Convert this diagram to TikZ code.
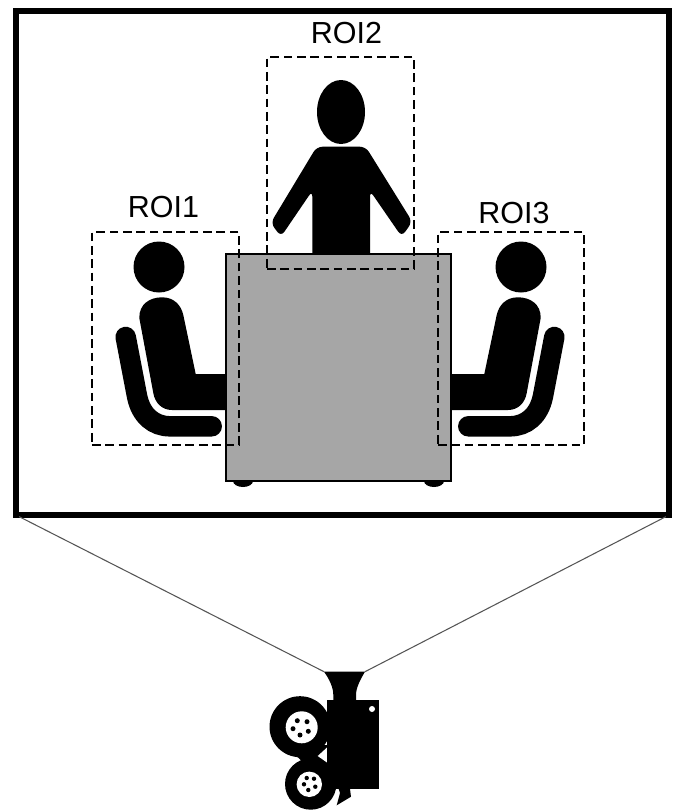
\documentclass[tikz,border=0pt]{standalone}
\usepackage{fontspec}
\setmainfont{Liberation Sans}
\usetikzlibrary{positioning}
\definecolor{tablegray}{HTML}{A6A6A6}
\definecolor{viewline}{HTML}{555555}

\tikzset{
  seated/.pic={
    \fill (159,267) circle (25.5);
    \fill (139.3,318) .. controls (139,304) and (150,297.3) .. (162,297.3)
      .. controls (174,297.3) and (181,305) .. (183.3,315) -- (195.7,374)
      -- (238,374) -- (238,410) -- (172,410)
      .. controls (162,410) and (155,403) .. (153.3,393) -- cycle;
    \draw[line width=17.5pt, line cap=round] (125.7,337) -- (137,396)
      .. controls (141,416) and (154,426.3) .. (170,426.3) -- (211.7,426.3);
  },
}

\begin{document}
\begin{tikzpicture}[
  x=.03cm, y=-.03cm,
  font=\fontsize{26pt}{28pt}\selectfont,
  roibox/.style={draw, line width=1.4pt, dash pattern=on 7.4pt off 4pt,
    minimum width=4.41cm, minimum height=6.39cm, inner sep=0pt, outer sep=0pt},
  framebox/.style={draw, line width=5.4pt, minimum width=19.59cm,
    minimum height=15.13cm, inner sep=0pt, outer sep=0pt},
  tablebox/.style={draw, line width=1.3pt, fill=tablegray, minimum width=6.75cm,
    minimum height=6.81cm, inner sep=0pt, outer sep=0pt},
  roilabel/.style={inner sep=0pt},
  viewray/.style={draw=viewline, line width=.9pt, shorten <=3pt},
]
  \useasboundingbox (0,0) rectangle (676,810);
  \fill[white] (0,0) rectangle (676,810);

  % people
  \fill (341,112) ellipse (24 and 32);
  \fill[rounded corners=5pt] (316.7,146.7) -- (270.7,223) -- (281,236.7)
    -- (312.3,190.7) -- (312.3,266) -- (370,266) -- (370,190.7)
    -- (401.7,236.7) -- (412.3,221.7) -- (365.7,146.7) -- cycle;
  \pic at (0,0) {seated};
  \pic[xscale=-1] at (680,0) {seated};

  % table
  \fill (243,481) ellipse (10 and 6);
  \fill (434,481) ellipse (10 and 6);
  \node[tablebox] (table) at (338.5,367.5) {};

  % regions
  \node[roibox] (roi1) at (165.5,338.5) {};
  \node[roibox, minimum height=6.36cm] (roi2) at (340.5,163) {};
  \node[roibox, minimum width=4.38cm] (roi3) at (511,338.5) {};
  \node[roilabel] (lab1) at (163.5,207) {ROI1};
  \node[roilabel] (lab2) at (346.5,33) {ROI2};
  \node[roilabel] (lab3) at (514,213) {ROI3};

  % field of view
  \node[framebox] (view) at (342.5,262.85) {};
  \coordinate (lensl) at (324,671.7);
  \coordinate (lensr) at (365,671.7);
  \draw[viewray] (view.south west) -- (lensl);
  \draw[viewray] (view.south east) -- (lensr);

  % camera
  \fill (300,726.7) circle (30.5);
  \fill (310.7,784) circle (25.7);
  \fill (285,745) -- (330,745) -- (330,790) -- (311,770) -- cycle;
  \fill[white] (317.7,756) -- (327,747.5) -- (327,762.5) -- cycle;
  \fill (324,671.7) .. controls (330,680) and (333.3,688) .. (333.3,695)
    -- (333.3,702) -- (356,702) -- (356,695)
    .. controls (356,688) and (360,680) .. (365,671.7) -- cycle;
  \node[fill, minimum width=1.58cm, minimum height=2.68cm, inner sep=0pt,
    outer sep=0pt] (body) at (353,744.7) {};
  \fill[white] (372,709) circle (3);
  \fill (338.7,789) -- (350,789) -- (351,796.7) -- (336.7,805.3)
    -- (340,793) -- cycle;
  \fill[white] (301.7,727.3) circle (16);
  \fill[white] (309.3,784.3) circle (12.7);
  \foreach \hx/\hy in {297.3/720.7,307/721.7,293/728.7,308.3/731.3,300/735}
    \fill (\hx,\hy) circle (2.5);
  \foreach \hx/\hy in {306.7/778,314/778.7,304/784.3,315.3/786.7,308.3/790}
    \fill (\hx,\hy) circle (2.2);
\end{tikzpicture}
\end{document}
